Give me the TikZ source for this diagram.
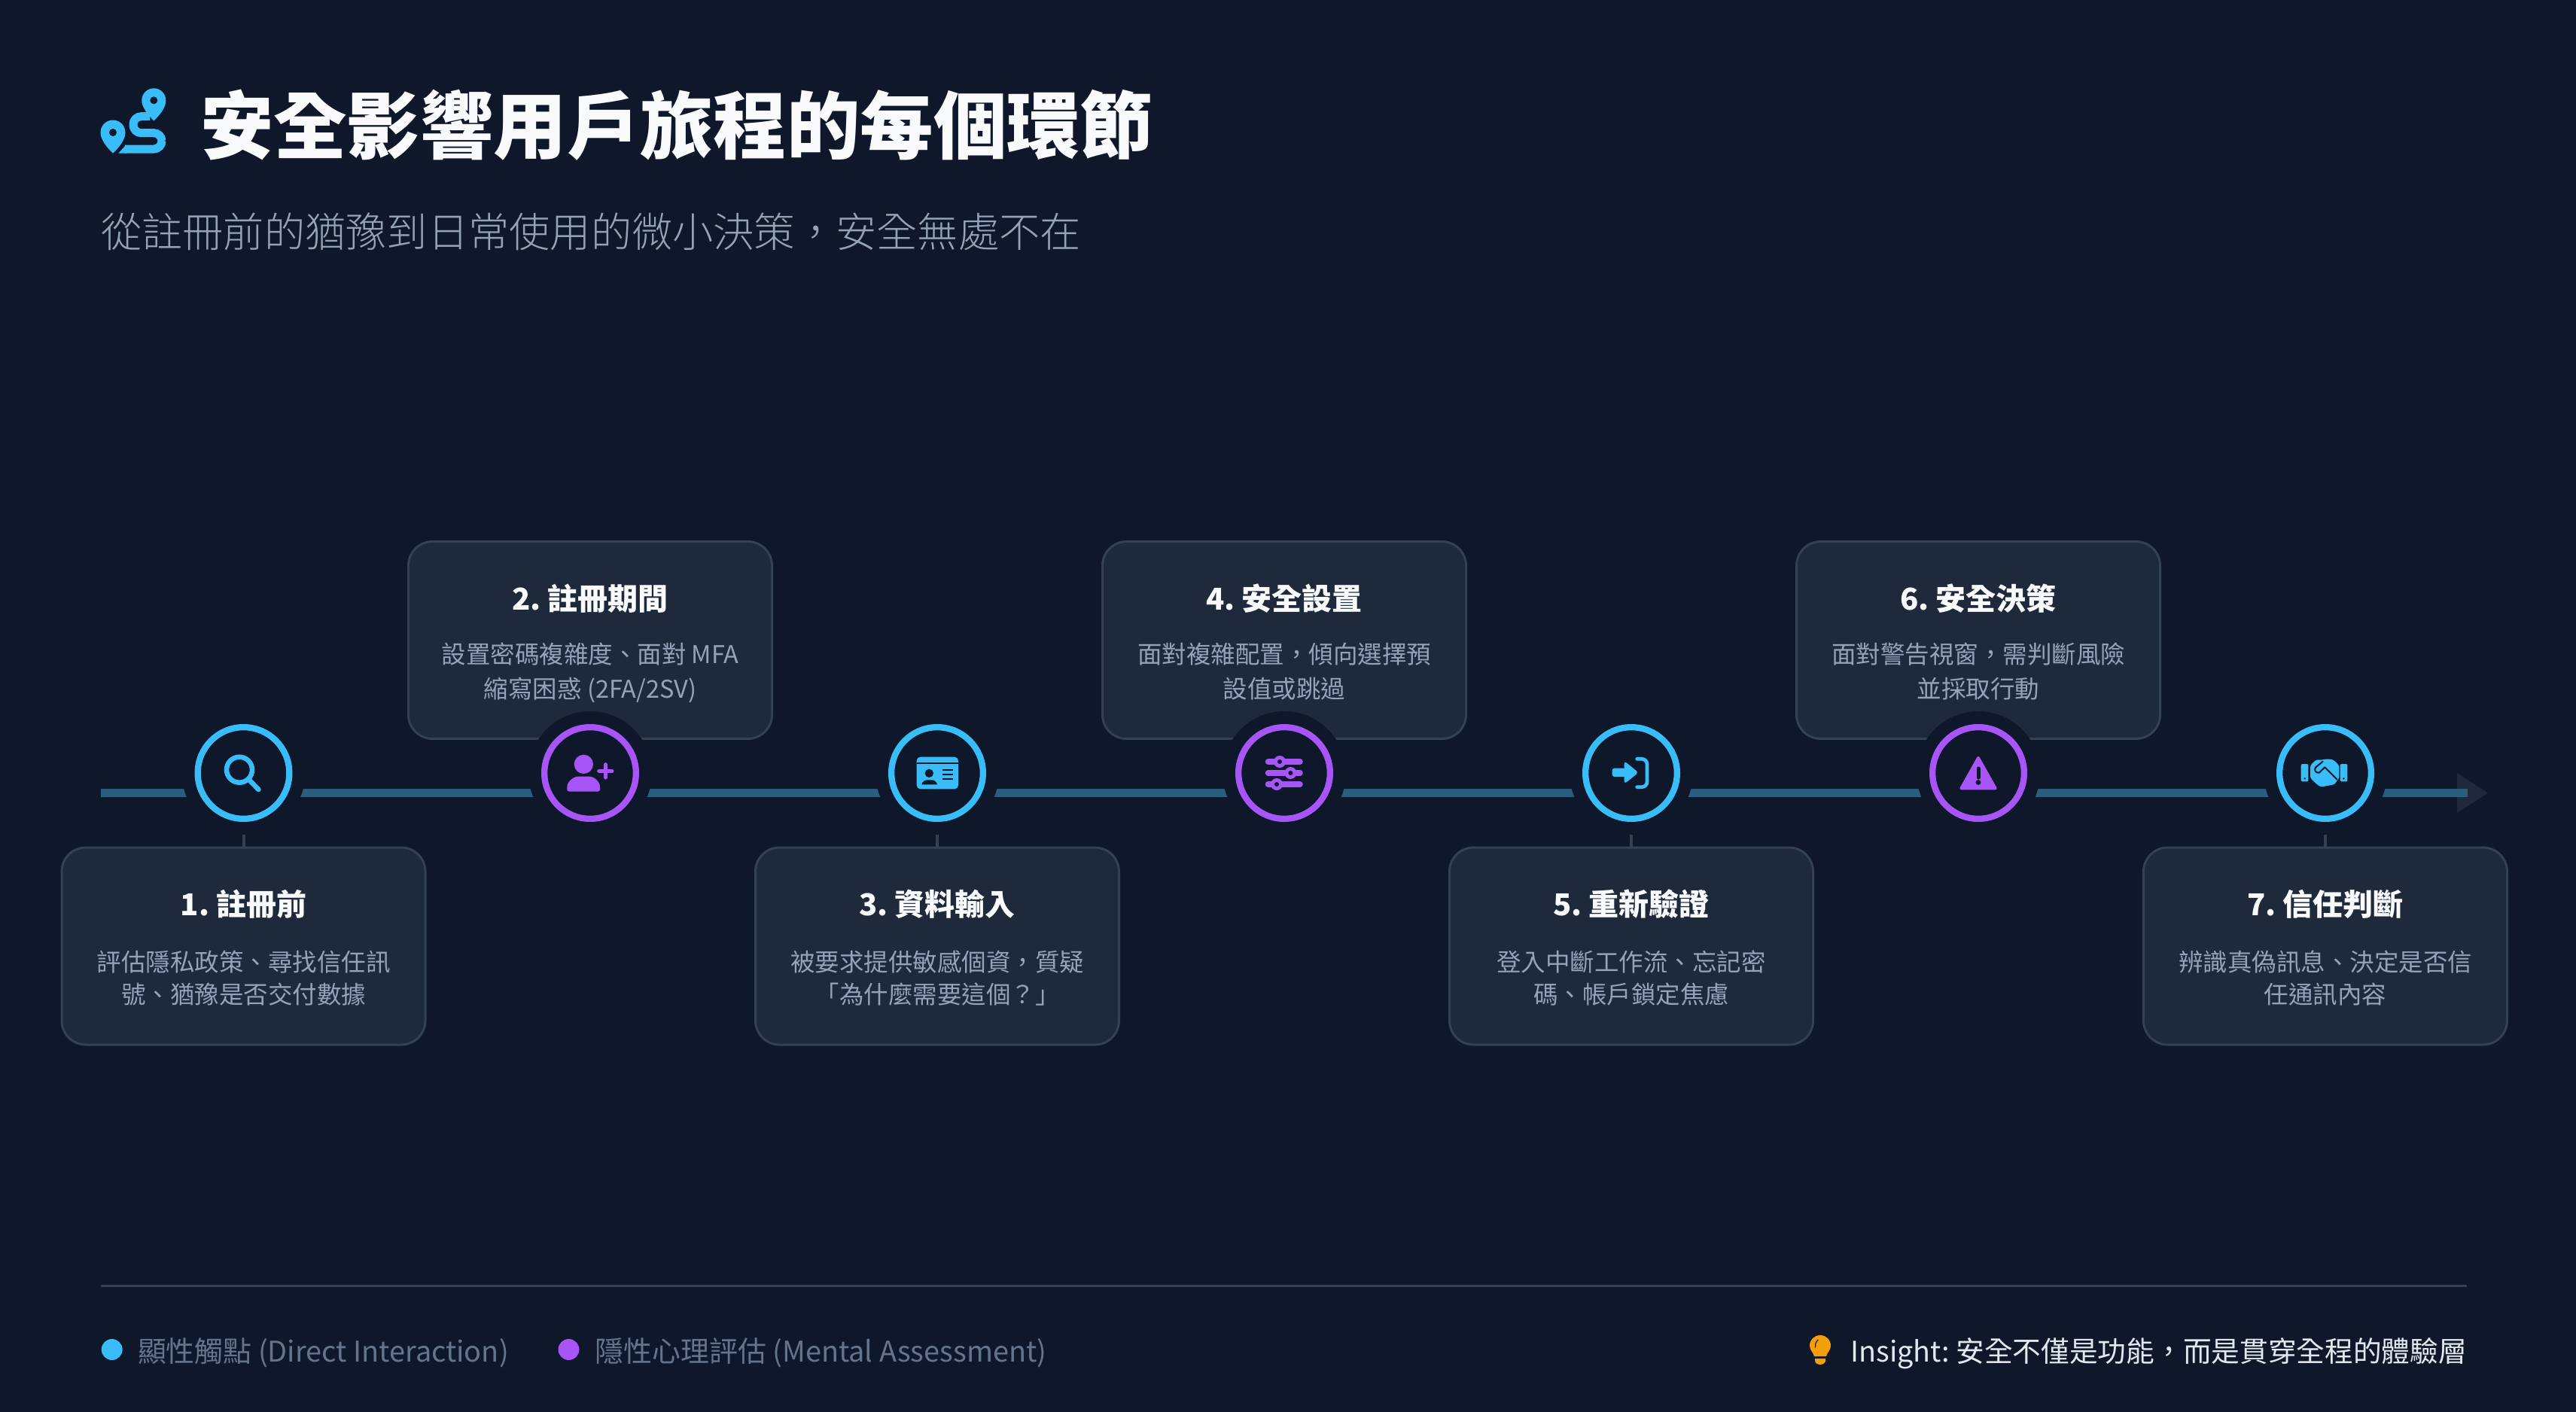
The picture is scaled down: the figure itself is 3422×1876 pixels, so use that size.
\documentclass[tikz,border=0pt]{standalone}
\usepackage{fontspec}
\setmainfont{Noto Sans CJK TC}
\newfontfamily\lightf{Noto Sans CJK TC Light}
\frenchspacing
\definecolor{bgc}{HTML}{0F172A}
\definecolor{cardc}{HTML}{1E293B}
\definecolor{edgec}{HTML}{334155}
\definecolor{cyanc}{HTML}{38BDF8}
\definecolor{purc}{HTML}{A855F7}
\definecolor{linec}{HTML}{2B5D7D}
\definecolor{headc}{HTML}{F8FAFC}
\definecolor{descc}{HTML}{94A3B8}
\definecolor{legc}{HTML}{64748B}
\definecolor{insc}{HTML}{E2E8F0}
\definecolor{ambc}{HTML}{F59E0B}
\newcommand{\twol}[2]{\begin{tabular}[t]{@{}c@{}}#1\\#2\end{tabular}}
\tikzset{
  txt/.style={inner sep=0pt,outer sep=0pt},
  card/.style={draw=edgec,line width=3pt,fill=cardc,rounded corners=32pt,minimum width=483pt,minimum height=262pt,inner sep=0pt,outer sep=0pt},
  halo/.style={circle,fill=bgc,minimum size=164pt,inner sep=0pt,outer sep=0pt},
  cyanring/.style={circle,draw=cyanc,line width=8.3pt,fill=bgc,minimum size=121.7pt,inner sep=0pt,outer sep=0pt},
  purring/.style={circle,draw=purc,line width=8.3pt,fill=bgc,minimum size=121.7pt,inner sep=0pt,outer sep=0pt},
  stem/.style={draw=edgec,line width=4pt},
  cardtitle/.style={txt,anchor=base,text=headc,font=\fontsize{40}{48}\selectfont\bfseries},
  carddescu/.style={txt,anchor=base,text=descc,font=\fontsize{32.5}{46}\selectfont},
  carddescl/.style={txt,anchor=base,text=descc,font=\fontsize{32.5}{43.5}\selectfont},
  legend/.style={txt,anchor=base west,text=legc,font=\fontsize{37.9}{48}\selectfont},
  zscale/.style={shift={(-40,-42)},scale=1/3},
}
\begin{document}
\begin{tikzpicture}[x=1pt,y=-1pt]
\useasboundingbox (0,0) rectangle (3422,1876);
\fill[bgc] (0,0) rectangle (3422,1876);
% header
\begin{scope}[cyanc]
  \fill (204.3,133.3) circle (16);
  \fill (188.6,136) .. controls (190,145) and (198,154) .. (204.3,160.5) .. controls (211,154) and (219,145) .. (220,136) -- cycle;
  \fill[bgc] (204.3,133.3) circle (5);
  \fill (150,176) circle (16.5);
  \fill (134,179) .. controls (135,188) and (144,198) .. (150,203.5) .. controls (156,198) and (165,188) .. (166,179) -- cycle;
  \fill[bgc] (150,176) circle (5);
  \fill (157.3,203.6) -- (167.5,192.5) -- (167.5,203.6) -- cycle;
  \draw[line width=11pt,rounded corners=10.7pt] (166,198) -- (215,198) -- (215,176.7) -- (177,176.7) -- (177,154.7) -- (199,154.7);
\end{scope}
\node[txt,anchor=base west,text=headc,font=\fontsize{97.4}{110}\selectfont\bfseries] (title) at (266,203) {安全影響用戶旅程的每個環節};
\node[txt,anchor=base west,text=descc,font=\fontsize{54.25}{64}\selectfont\lightf] (subtitle) at (134,328) {從註冊前的猶豫到日常使用的微小決策，安全無處不在};
% cards
\node[card] (card1) at (323.5,1257) {};
\node[card] (card2) at (784,850.5) {};
\node[card] (card3) at (1245,1257) {};
\node[card] (card4) at (1706,850.5) {};
\node[card] (card5) at (2167,1257) {};
\node[card] (card6) at (2628,850.5) {};
\node[card] (card7) at (3089,1257) {};
% timeline
\coordinate (linestart) at (134,1053.5);
\coordinate (lineend) at (3278,1053.5);
\coordinate (tipa) at (3264,1027);
\coordinate (tipb) at (3305,1053.5);
\coordinate (tipc) at (3264,1080);
\fill[cardc] (tipa) -- (tipb) -- (tipc) -- cycle;
\draw[linec,line width=11pt] (linestart) -- (lineend);
% stems
\coordinate (s1) at (323.5,1027);
\coordinate (s3) at (1245,1027);
\coordinate (s5) at (2167,1027);
\coordinate (s7) at (3089,1027);
\draw[stem] (s1) -- (card1.north);
\draw[stem] (s3) -- (card3.north);
\draw[stem] (s5) -- (card5.north);
\draw[stem] (s7) -- (card7.north);
% rings
\node[halo] (h1) at (323.5,1027) {};
\node[halo] (h2) at (784,1027) {};
\node[halo] (h3) at (1245,1027) {};
\node[halo] (h4) at (1706,1027) {};
\node[halo] (h5) at (2167,1027) {};
\node[halo] (h6) at (2628,1027) {};
\node[halo] (h7) at (3089,1027) {};
\node[cyanring] (c1) at (323.5,1027) {};
\node[purring] (c2) at (784,1027) {};
\node[cyanring] (c3) at (1245,1027) {};
\node[purring] (c4) at (1706,1027) {};
\node[cyanring] (c5) at (2167,1027) {};
\node[purring] (c6) at (2628,1027) {};
\node[cyanring] (c7) at (3089,1027) {};
% icon 1 search
\begin{scope}[shift={(c1)}]
  \draw[cyanc,line width=6.5pt] (-5.5,-4.3) circle (17);
  \draw[cyanc,line width=6.5pt,line cap=round] (8,9.7) -- (20,22);
\end{scope}
% icon 2 user plus
\begin{scope}[shift={(c2)}]\begin{scope}[zscale]
  \fill[purc] (94,91) circle (38);
  \fill[purc,rounded corners=3pt] (28,200) -- (28,190) .. controls (28,160) and (55,140) .. (80,140) -- (107,140) .. controls (135,140) and (159,160) .. (159,190) -- (159,200) -- cycle;
  \draw[purc,line width=5pt,line cap=round] (155,118) -- (207,118);
  \draw[purc,line width=5pt,line cap=round] (181,92) -- (181,144);
\end{scope}\end{scope}
% icon 3 id card
\begin{scope}[shift={(c3)}]\begin{scope}[zscale]
  \fill[cyanc,rounded corners=5pt] (38,190) rectangle (204,62);
  \fill[bgc] (38,84) rectangle (204,89);
  \fill[bgc] (88,127) circle (17);
  \fill[bgc] (58,172) .. controls (60,160) and (72,154) .. (80,154) -- (98,154) .. controls (108,154) and (118,160) .. (120,172) -- cycle;
  \draw[bgc,line width=2pt] (141,113) -- (184,113);
  \draw[bgc,line width=2pt] (141,131) -- (184,131);
  \draw[bgc,line width=2pt] (141,150) -- (184,150);
\end{scope}\end{scope}
% icon 4 sliders
\begin{scope}[shift={(c4)}]
  \draw[purc,line width=7.5pt,line cap=round] (-21.5,-15) -- (21,-15);
  \draw[purc,line width=7.5pt,line cap=round] (-21.5,0) -- (21,0);
  \draw[purc,line width=7.5pt,line cap=round] (-21.5,15) -- (21,15);
  \fill[purc] (-6,-15) circle (8);
  \fill[purc] (8.4,0) circle (8);
  \fill[purc] (-10,15) circle (8);
  \fill[bgc] (-6,-15) circle (3);
  \fill[bgc] (8.4,0) circle (3);
  \fill[bgc] (-10,15) circle (3);
\end{scope}
% icon 5 enter
\begin{scope}[shift={(c5)}]\begin{scope}[zscale]
  \fill[cyanc,rounded corners=3pt] (44,107) rectangle (98,141);
  \fill[cyanc,rounded corners=4pt] (92,78) -- (149,124) -- (92,170) -- cycle;
  \draw[cyanc,line width=4.7pt,line cap=round,rounded corners=7pt] (143,70) -- (183,70) -- (183,182) -- (143,182);
\end{scope}\end{scope}
% icon 6 warning
\begin{scope}[shift={(c6)}]
  \fill[purc,rounded corners=3.5pt] (0,-24) -- (26,22.3) -- (-26,22.3) -- cycle;
  \draw[bgc,line width=5pt,line cap=round] (0,-6) -- (0,6);
  \fill[bgc] (0,12.5) circle (3.4);
\end{scope}
% icon 7 handshake
\begin{scope}[shift={(c7)}]\begin{scope}[zscale]
  \fill[cyanc,rounded corners=2pt] (23,90) rectangle (52,160);
  \fill[cyanc,rounded corners=2pt] (179,90) rectangle (208,160);
  \fill[bgc] (38,148) circle (4);
  \fill[bgc] (193,148) circle (4);
  \fill[cyanc,rounded corners=3pt] (60,95) -- (85,72) -- (105,75) -- (120,70) -- (150,72) -- (175,95) -- (175,150) -- (165,155) -- (160,170) -- (140,175) -- (120,178) -- (105,182) -- (90,175) -- (75,160) -- (60,147) -- cycle;
  \draw[bgc,line width=2pt,line cap=round,line join=round] (110,80) -- (82,103) .. controls (74,112) and (80,127) .. (95,125) -- (118,103) -- (167,152);
\end{scope}\end{scope}
% card text
\node[cardtitle] (t1) at (323.5,1216) {1. 註冊前};
\node[carddescl] (d1) at (323.5,1290) {\twol{評估隱私政策、尋找信任訊}{號、猶豫是否交付數據}};
\node[cardtitle] (t2) at (784,810) {2. 註冊期間};
\node[carddescu] (d2) at (784,881) {\twol{設置密碼複雜度、面對 MFA}{縮寫困惑 (2FA/2SV)}};
\node[cardtitle] (t3) at (1245,1216) {3. 資料輸入};
\node[carddescl] (d3) at (1245,1290) {\twol{被要求提供敏感個資，質疑}{「為什麼需要這個？」}};
\node[cardtitle] (t4) at (1706,810) {4. 安全設置};
\node[carddescu] (d4) at (1706,881) {\twol{面對複雜配置，傾向選擇預}{設值或跳過}};
\node[cardtitle] (t5) at (2167,1216) {5. 重新驗證};
\node[carddescl] (d5) at (2167,1290) {\twol{登入中斷工作流、忘記密}{碼、帳戶鎖定焦慮}};
\node[cardtitle] (t6) at (2628,810) {6. 安全決策};
\node[carddescu] (d6) at (2628,881) {\twol{面對警告視窗，需判斷風險}{並採取行動}};
\node[cardtitle] (t7) at (3089,1216) {7. 信任判斷};
\node[carddescl] (d7) at (3089,1290) {\twol{辨識真偽訊息、決定是否信}{任通訊內容}};
% footer
\coordinate (rulea) at (134,1708);
\coordinate (ruleb) at (3277,1708);
\draw[edgec,line width=3pt] (rulea) -- (ruleb);
\fill[cyanc] (148.7,1793) circle (14);
\node[legend] (l1) at (183,1809) {顯性觸點 (Direct Interaction)};
\fill[purc] (755.5,1793) circle (14);
\node[legend] (l2) at (790.6,1809) {隱性心理評估 (Mental Assessment)};
\fill[ambc] (2418,1774) .. controls (2426,1774) and (2432,1780) .. (2432,1788) .. controls (2432,1794) and (2427,1797) .. (2426,1802) -- (2410,1802) .. controls (2409,1797) and (2404,1794) .. (2404,1788) .. controls (2404,1780) and (2410,1774) .. (2418,1774) -- cycle;
\fill[ambc] (2411,1805) -- (2425,1805) -- (2425,1808) .. controls (2425,1811) and (2421,1813) .. (2418,1813) .. controls (2415,1813) and (2411,1811) .. (2411,1808) -- cycle;
\draw[bgc,line width=1.2pt,line cap=round] (2411.5,1790) .. controls (2411.5,1785) and (2412.5,1782) .. (2415,1780);
\node[txt,anchor=base east,text=insc,font=\fontsize{37.7}{48}\selectfont] (ins) at (3277,1809) {Insight: 安全不僅是功能，而是貫穿全程的體驗層};
\end{tikzpicture}
\end{document}
